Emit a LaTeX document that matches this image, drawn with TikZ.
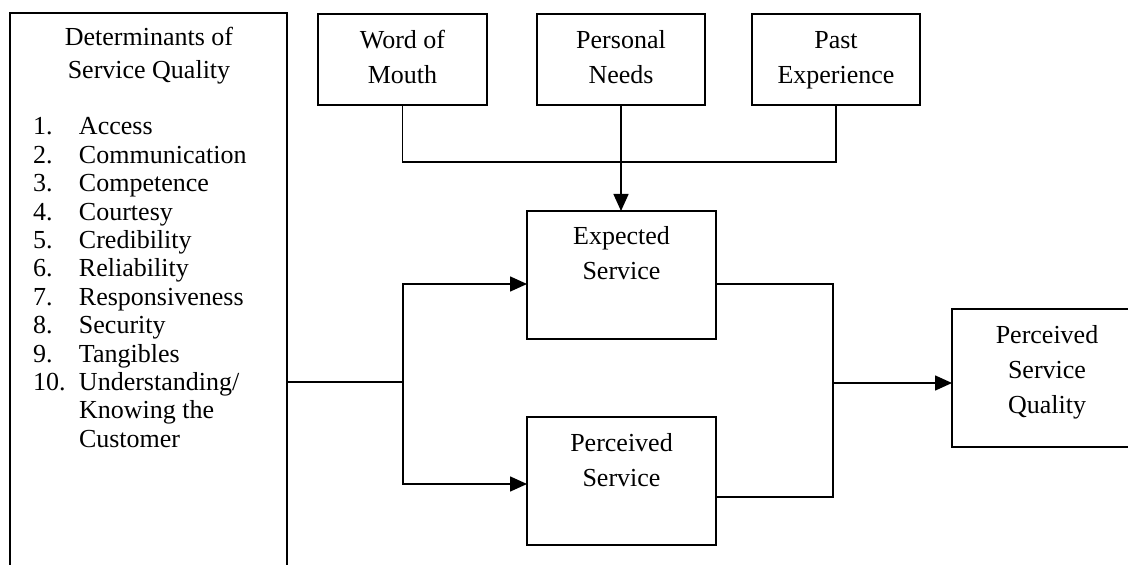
\documentclass[tikz,border=0pt]{standalone}
\usepackage{fontspec}
\setmainfont{Liberation Serif}
\usetikzlibrary{arrows.meta}
\newcommand\mlines[1]{\begin{tabular}{@{}c@{}}#1\end{tabular}}
\tikzset{
  boxnode/.style={draw, line width=0.8pt, inner sep=0pt, outer sep=0pt},
  conn/.style={line width=0.8pt},
  arr/.style={conn, -{Triangle[length=8.5pt,width=7.5pt]}},
  txt/.style={inner sep=0pt, outer sep=0pt, font=\fontsize{13}{17.5}\selectfont},
}
\begin{document}
\begin{tikzpicture}[x=0.5pt,y=-0.5pt]
\useasboundingbox (0,0) rectangle (1128,565);
\clip (0,0) rectangle (1128,565);

% boxes
\node[boxnode, anchor=north west, minimum width=138.5pt, minimum height=303.5pt] (det) at (10,13) {};
\node[boxnode, txt, minimum width=84.5pt, minimum height=45.5pt] (wom) at (402.5,59.5) {\mlines{Word of\\Mouth}};
\node[boxnode, txt, minimum width=84pt, minimum height=45.5pt] (pn) at (621,59.5) {\mlines{Personal\\Needs}};
\node[boxnode, txt, minimum width=84pt, minimum height=45.5pt] (pe) at (836,59.5) {\mlines{Past\\Experience}};
\node[boxnode, minimum width=94.5pt, minimum height=64pt] (exp) at (621.5,275) {};
\node[boxnode, minimum width=94.5pt, minimum height=64pt] (per) at (621.5,481) {};
\node[boxnode, minimum width=95pt, minimum height=69pt] (psq) at (1047,378) {};

% texts
\node[txt] (dethead) at (149,55.4) {\fontsize{13}{16.5}\selectfont\mlines{Determinants of\\Service Quality}};
\node[txt, anchor=west] (detlist) at (33,285.5) {\fontsize{13}{14.2}\selectfont
  \begin{tabular}{@{}p{23pt}@{}l@{}}
  1. & Access\\
  2. & Communication\\
  3. & Competence\\
  4. & Courtesy\\
  5. & Credibility\\
  6. & Reliability\\
  7. & Responsiveness\\
  8. & Security\\
  9. & Tangibles\\
  10. & Understanding/\\
   & Knowing the\\
   & Customer
  \end{tabular}};
\node[txt] (exptxt) at (621.5,255.5) {\mlines{Expected\\Service}};
\node[txt] (pertxt) at (621.5,462) {\mlines{Perceived\\Service}};
\node[txt] (psqtxt) at (1047,372) {\mlines{Perceived\\Service\\Quality}};

% connectors
\coordinate (jt) at (621,162);
\draw[conn] (wom.south) |- (jt) -| (pe.south);
\draw[arr] (pn.south) -- (pn.south |- exp.north);

\coordinate (t) at (403,382);
\coordinate (t1) at (403,284);
\coordinate (t2) at (403,484);
\draw[conn] (det.east |- t) -- (t);
\draw[arr] (t) -- (t1) -- (t1 -| exp.west);
\draw[arr] (t) -- (t2) -- (t2 -| per.west);

\coordinate (r1) at (833,284);
\coordinate (r2) at (833,497);
\coordinate (m) at (833,383);
\draw[conn] (r1 -| exp.east) -- (r1) -- (r2) -- (r2 -| per.east);
\draw[arr] (m) -- (m -| psq.west);
\end{tikzpicture}
\end{document}
